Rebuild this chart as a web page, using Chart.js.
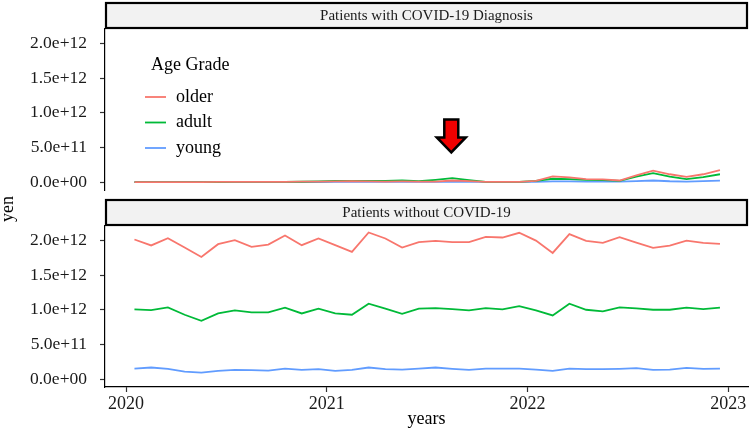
<!DOCTYPE html>
<html>
<head>
<meta charset="utf-8">
<script src="https://cdn.jsdelivr.net/npm/chart.js@4.4.1/dist/chart.umd.min.js"></script>
<style>
  body { margin: 0; background: #fff; }
  #wrap { position: relative; width: 750px; height: 430px; }
  canvas { position: absolute; left: 0; top: 0; }
</style>
</head>
<body>
<div id="wrap">
  <canvas id="panelTop" width="750" height="430"></canvas>
  <canvas id="panelBottom" width="750" height="430"></canvas>
</div>
<script>
// monthly data, values in units of 1e12 yen
const months = [
  '2020-01','2020-02','2020-03','2020-04','2020-05','2020-06','2020-07','2020-08','2020-09','2020-10','2020-11','2020-12',
  '2021-01','2021-02','2021-03','2021-04','2021-05','2021-06','2021-07','2021-08','2021-09','2021-10','2021-11','2021-12',
  '2022-01','2022-02','2022-03','2022-04','2022-05','2022-06','2022-07','2022-08','2022-09','2022-10','2022-11','2022-12'
];
const groups = ['older', 'adult', 'young'];
const colors = ['#F8766D', '#00BA38', '#619CFF'];

// Patients with COVID-19 Diagnosis
const olderWith = [0.002,0.002,0.002,0.003,0.003,0.004,0.005,0.005,0.006,0.006,0.008,0.010,
                   0.012,0.016,0.012,0.010,0.012,0.010,0.010,0.025,0.015,0.005,0.005,0.006,
                   0.020,0.085,0.070,0.045,0.040,0.025,0.100,0.168,0.115,0.077,0.115,0.175];
const adultWith = [0.001,0.001,0.002,0.002,0.003,0.003,0.004,0.004,0.005,0.005,0.007,0.012,
                   0.018,0.020,0.018,0.020,0.025,0.015,0.035,0.058,0.030,0.005,0.005,0.006,
                   0.020,0.050,0.045,0.035,0.030,0.020,0.080,0.130,0.080,0.045,0.075,0.115];
const youngWith = [0.001,0.001,0.001,0.001,0.001,0.001,0.001,0.002,0.002,0.002,0.002,0.003,
                   0.004,0.004,0.004,0.004,0.004,0.004,0.005,0.006,0.005,0.004,0.004,0.004,
                   0.006,0.012,0.012,0.010,0.010,0.008,0.016,0.025,0.014,0.010,0.016,0.024];

// Patients without COVID-19
const olderWithout = [2.015,1.930,2.035,1.900,1.763,1.948,2.005,1.908,1.942,2.073,1.933,2.030,
                      1.933,1.836,2.117,2.030,1.898,1.977,1.996,1.977,1.977,2.054,2.044,2.112,
                      2.000,1.821,2.093,1.996,1.967,2.049,1.971,1.894,1.928,2.000,1.967,1.952];
const adultWithout = [1.007,0.997,1.036,0.930,0.843,0.949,0.993,0.964,0.964,1.032,0.949,1.017,
                      0.949,0.930,1.090,1.017,0.944,1.017,1.026,1.012,0.993,1.026,1.007,1.055,
                      0.992,0.920,1.090,1.002,0.978,1.036,1.022,1.002,1.002,1.032,1.012,1.032];
const youngWithout = [0.154,0.169,0.150,0.111,0.096,0.121,0.135,0.130,0.125,0.154,0.135,0.145,
                      0.121,0.135,0.169,0.145,0.140,0.154,0.169,0.150,0.135,0.154,0.154,0.154,
                      0.140,0.121,0.154,0.145,0.145,0.150,0.159,0.135,0.140,0.164,0.150,0.154];

const xTicks = [2020, 2021, 2022, 2023];
const yTicks = [0, 0.5e12, 1.0e12, 1.5e12, 2.0e12];
const UNIT = 1e12;
const arrowAt = { x: 2021.62, y: 0.43e12 };  // tip of the red arrow

const FONT = '"Liberation Serif", "Times New Roman", serif';
const X_MIN = 2019.895, X_MAX = 2023.098;
const Y_MIN = -0.112e12, Y_MAX = 2.21e12;

// month string -> decimal year at mid-month
function toYear(m) {
  const [y, mo] = m.split('-').map(Number);
  return y + (mo - 0.5) / 12;
}

function sciLabel(v) {
  const s = Number(v).toExponential(1);          // "2.0e+12"
  const [mant, ex] = s.split('e');
  const sign = ex[0] === '-' ? '-' : '+';
  const digits = ex.replace(/[+-]/, '').padStart(2, '0');
  return mant + 'e' + sign + digits;
}

function makeDatasets(series) {
  return series.map((vals, i) => ({
    label: groups[i],
    data: months.map((m, k) => ({ x: toYear(m), y: vals[k] * UNIT })),
    borderColor: colors[i],
    backgroundColor: colors[i],
    borderWidth: 1.8,
    pointRadius: 0,
    tension: 0
  }));
}

// grey facet strip above the panel
const stripPlugin = {
  id: 'strip',
  afterDraw(chart, args, opts) {
    const { ctx, chartArea: a } = chart;
    const top = a.top - opts.height;
    ctx.save();
    ctx.fillStyle = '#F2F2F2';
    ctx.fillRect(a.left, top, a.right - a.left, opts.height);
    ctx.strokeStyle = '#000';
    ctx.lineWidth = 2.2;
    ctx.strokeRect(a.left + 1, top + 1, a.right - a.left - 2, opts.height - 2);
    ctx.fillStyle = '#1a1a1a';
    ctx.font = '15px ' + FONT;
    ctx.textAlign = 'center';
    ctx.textBaseline = 'middle';
    ctx.fillText(opts.text, (a.left + a.right) / 2, top + opts.height / 2 + 1);
    ctx.restore();
  }
};

// legend, arrow and shared y title on the top panel
const extrasPlugin = {
  id: 'extras',
  afterDraw(chart) {
    const { ctx, chartArea: a, scales } = chart;
    ctx.save();
    // legend
    ctx.fillStyle = '#000';
    ctx.font = '18px ' + FONT;
    ctx.textBaseline = 'middle';
    ctx.textAlign = 'left';
    ctx.fillText('Age Grade', a.left + 46, 65);
    chart.data.datasets.forEach((ds, i) => {
      const y = 97 + i * 25.5;
      ctx.strokeStyle = ds.borderColor;
      ctx.lineWidth = 1.8;
      ctx.beginPath();
      ctx.moveTo(a.left + 40, y);
      ctx.lineTo(a.left + 61, y);
      ctx.stroke();
      ctx.fillStyle = '#000';
      ctx.fillText(ds.label, a.left + 71, y);
    });
    // red arrow
    const tx = scales.x.getPixelForValue(arrowAt.x);
    const ty = scales.y.getPixelForValue(arrowAt.y);
    ctx.beginPath();
    ctx.moveTo(tx, ty);
    ctx.lineTo(tx - 14.5, ty - 15);
    ctx.lineTo(tx - 7, ty - 15);
    ctx.lineTo(tx - 7, ty - 33);
    ctx.lineTo(tx + 7, ty - 33);
    ctx.lineTo(tx + 7, ty - 15);
    ctx.lineTo(tx + 14.5, ty - 15);
    ctx.closePath();
    ctx.fillStyle = '#F00000';
    ctx.fill();
    ctx.lineWidth = 2.5;
    ctx.lineJoin = 'miter';
    ctx.strokeStyle = '#000';
    ctx.stroke();
    // y title
    ctx.translate(8, 209);
    ctx.rotate(-Math.PI / 2);
    ctx.textAlign = 'center';
    ctx.fillStyle = '#000';
    ctx.font = '18px ' + FONT;
    ctx.fillText('yen', 0, 0);
    ctx.restore();
  }
};

function panelOptions(stripText, showX, padding) {
  return {
    responsive: false,
    animation: false,
    layout: { padding },
    plugins: {
      legend: { display: false },
      tooltip: { enabled: false },
      strip: { text: stripText, height: 27 }
    },
    scales: {
      x: {
        type: 'linear',
        min: X_MIN,
        max: X_MAX,
        display: showX,
        afterBuildTicks: s => { s.ticks = xTicks.map(v => ({ value: v })); },
        afterFit: s => { s.height = showX ? 43 : 0; },
        ticks: {
          callback: v => String(v),
          color: '#1a1a1a',
          font: { family: FONT, size: 18 },
          padding: 1,
          maxRotation: 0
        },
        grid: { drawOnChartArea: false, tickLength: 5, tickColor: '#333', tickWidth: 1.2 },
        border: { display: true, color: '#000', width: 1.2 },
        title: {
          display: true,
          text: 'years',
          color: '#000',
          font: { family: FONT, size: 18 },
          padding: { top: -4, bottom: 0 }
        }
      },
      y: {
        min: Y_MIN,
        max: Y_MAX,
        afterBuildTicks: s => { s.ticks = yTicks.map(v => ({ value: v })); },
        afterFit: s => { s.width = 105; },
        ticks: {
          callback: v => sciLabel(v),
          color: '#1a1a1a',
          font: { family: FONT, size: 17.5 },
          padding: 13
        },
        grid: { drawOnChartArea: false, tickLength: 5, tickColor: '#333', tickWidth: 1.2 },
        border: { display: true, color: '#000', width: 1.2 }
      }
    }
  };
}

new Chart(document.getElementById('panelTop'), {
  type: 'line',
  data: { datasets: makeDatasets([olderWith, adultWith, youngWith]) },
  options: panelOptions('Patients with COVID-19 Diagnosis', false, { top: 29, right: 2, bottom: 240, left: 0 }),
  plugins: [stripPlugin, extrasPlugin]
});

new Chart(document.getElementById('panelBottom'), {
  type: 'line',
  data: { datasets: makeDatasets([olderWithout, adultWithout, youngWithout]) },
  options: panelOptions('Patients without COVID-19', true, { top: 226, right: 2, bottom: 0, left: 0 }),
  plugins: [stripPlugin]
});
</script>
</body>
</html>
